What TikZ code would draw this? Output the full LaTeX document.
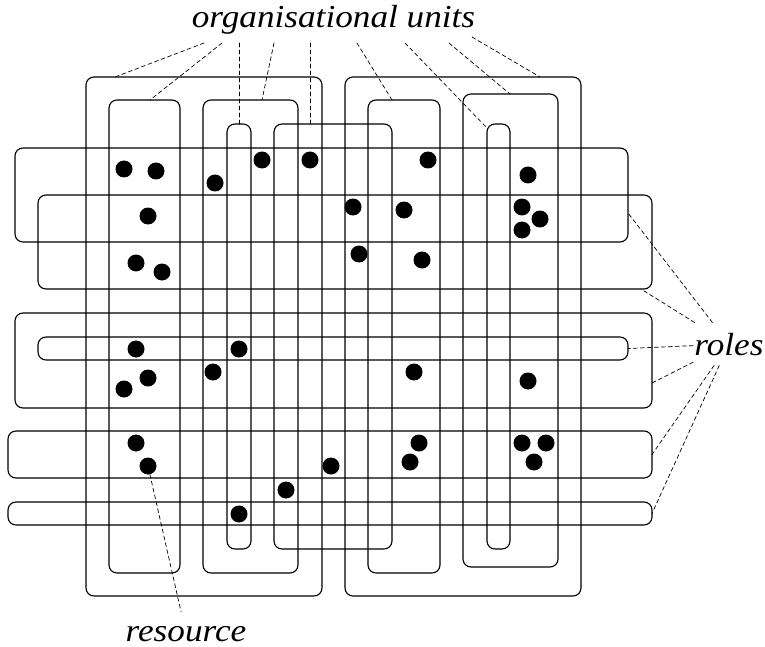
\documentclass[tikz,border=0pt]{standalone}
\usepackage{fontspec}
\setmainfont{Liberation Serif}
\usetikzlibrary{positioning}

\begin{document}
\begin{tikzpicture}[line cap=round,line join=round,x=1pt,y=-1pt,
  unit/.style={draw,line width=1.1pt,rounded corners=8pt,inner sep=0pt,outer sep=0pt},
  res/.style={circle,fill=black,inner sep=0pt,minimum size=17pt},
  leader/.style={line width=0.7pt,dash pattern=on 4pt off 3pt},
  lbl/.style={font=\itshape\fontsize{32}{38}\selectfont,anchor=base}]
\useasboundingbox (0,0) rectangle (765,647);
\node[unit,minimum width=236pt,minimum height=519pt] (ou1) at (204,336.5) {};
\node[unit,minimum width=71pt,minimum height=473pt] (ou2) at (144.5,336.5) {};
\node[unit,minimum width=95pt,minimum height=473pt] (ou3) at (250.5,336.5) {};
\node[unit,minimum width=24pt,minimum height=425pt] (ou4) at (239,336.5) {};
\node[unit,minimum width=118pt,minimum height=425pt] (ou5) at (333,336.5) {};
\node[unit,minimum width=236pt,minimum height=519pt] (ou6) at (463,336.5) {};
\node[unit,minimum width=72pt,minimum height=473pt] (ou7) at (404,336.5) {};
\node[unit,minimum width=95pt,minimum height=473pt] (ou8) at (510.5,330.5) {};
\node[unit,minimum width=23pt,minimum height=425pt] (ou9) at (498.5,336.5) {};
\node[unit,minimum width=613pt,minimum height=94pt] (ro1) at (321.5,195) {};
\node[unit,minimum width=614pt,minimum height=94pt] (ro2) at (345,242) {};
\node[unit,minimum width=637pt,minimum height=95pt] (ro3) at (333.5,360.5) {};
\node[unit,minimum width=590pt,minimum height=23pt] (ro4) at (333,348.5) {};
\node[unit,minimum width=644pt,minimum height=47pt] (ro5) at (330,454.5) {};
\node[unit,minimum width=644pt,minimum height=23pt] (ro6) at (330,513.5) {};
\foreach \x/\y [count=\i] in {124/169,156/171,215/183,262/160,310/160,148/216,136/263,
  162/272,353/207,359/254,428/160,404/210,422/260,528/175,522/207,540/219,522/230,
  136/349,239/349,213/372,148/378,124/389,136/443,148/466,331/466,286/490,239/514,
  414/372,528/381,419/443,410/462,522/443,546/443,534/462}
  \node[res] (r\i) at (\x,\y) {};
\node[lbl,inner xsep=0pt,inner ysep=8pt] (units) at (333.5,28) {\scalebox{1.1}[1]{organisational units}};
\node[lbl,inner xsep=1pt,inner ysep=10pt] (roles) at (729,355) {\scalebox{1.1}[1]{roles}};
\node[lbl,inner xsep=2pt,inner ysep=14pt] (resource) at (186,641) {\scalebox{1.1}[1]{resource}};
\draw[leader] ([xshift=-129.5pt]units.south) -- ([xshift=29pt]ou1.north west);
\draw[leader] ([xshift=-111.5pt]units.south) -- ([xshift=41pt]ou2.north west);
\draw[leader] ([xshift=-94.5pt]units.south) -- (ou4.north);
\draw[leader] ([xshift=-59.5pt]units.south) -- ([xshift=59pt]ou3.north west);
\draw[leader] ([xshift=-23.5pt]units.south) -- ([xshift=36pt]ou5.north west);
\draw[leader] ([xshift=23.5pt]units.south) -- ([xshift=24pt]ou7.north west);
\draw[leader] ([xshift=71.5pt]units.south) -- ([yshift=-4pt]ou9.north west);
\draw[leader] ([xshift=115.5pt]units.south) -- ([xshift=47pt]ou8.north west);
\draw[leader] ([xshift=138.5pt,yshift=6pt]units.south) -- ([xshift=-41pt]ou6.north east);
\draw[leader] (roles) -- ([yshift=-18pt]ro1.east);
\draw[leader] (roles) -- ([xshift=-11pt]ro2.south east);
\draw[leader] (roles) -- ([yshift=-22.5pt]ro3.east);
\draw[leader] (roles) -- (ro4.east);
\draw[leader] (roles) -- (ro5.east);
\draw[leader] (roles) -- (ro6.east);
\draw[leader] (r24) -- (resource);
\end{tikzpicture}
\end{document}
